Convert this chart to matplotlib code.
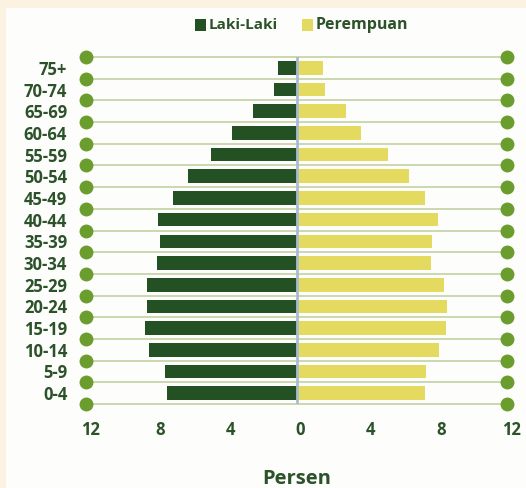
import matplotlib
matplotlib.use("Agg")
import matplotlib.pyplot as plt
from matplotlib.patches import Rectangle
from matplotlib.transforms import ScaledTranslation

categories = ["0-4", "5-9", "10-14", "15-19", "20-24", "25-29", "30-34", "35-39",
              "40-44", "45-49", "50-54", "55-59", "60-64", "65-69", "70-74", "75+"]
laki = [7.4, 7.5, 8.4, 8.65, 8.5, 8.55, 7.95, 7.8, 7.9, 7.05, 6.2, 4.85, 3.65, 2.5, 1.3, 1.05]
perempuan = [7.3, 7.4, 8.1, 8.5, 8.6, 8.4, 7.65, 7.7, 8.05, 7.3, 6.4, 5.2, 3.7, 2.8, 1.65, 1.5]
xticks = [-12, -8, -4, 0, 4, 8, 12]
xticklabels = ["12", "8", "4", "0", "4", "8", "12"]

W, H = 526, 488
fig = plt.figure(figsize=(W / 100, H / 100), dpi=100)
fig.patch.set_facecolor("#fbf2e2")
fig.patches.append(Rectangle((6 / W, 0), 1, 1 - 8 / H, transform=fig.transFigure,
                             facecolor="#fdfdfc", edgecolor="none", zorder=-10))

font = "Open Sans"
txt = "#2b5229"
dark = "#245124"
yellow = "#e3da5f"

ax = fig.add_axes([86 / W, 1 - 404 / H, 421 / W, 347 / H])
ax.set_facecolor("none")
ax.set_xlim(-12, 12)
ax.set_ylim(-0.5, len(categories) - 0.5)

ys = list(range(len(categories)))
ax.barh(ys, [-v for v in laki], height=0.63, color=dark, zorder=3)
ax.barh(ys, perempuan, height=0.63, color=yellow, zorder=3)

# grid lines with dots
for b in [i - 0.5 for i in range(len(categories) + 1)]:
    ax.plot([-12, 12], [b, b], color="#c7d5a9", lw=1.3, zorder=1, clip_on=False)
    ax.plot([-12, 12], [b, b], 'o', color="#6b9d2e", ms=9, zorder=4, clip_on=False)

ax.plot([0, 0], [-0.5, len(categories) - 0.5], color="#a9bccf", lw=2, zorder=4)

for s in ax.spines.values():
    s.set_visible(False)
ax.tick_params(length=0)
ax.set_yticks(ys)
ax.set_yticklabels(categories, fontfamily=font, fontweight="bold", fontsize=12, color=txt)
ax.tick_params(axis="y", pad=13.5)
ax.set_xticks(xticks)
ax.set_xticklabels(xticklabels, fontfamily=font, fontweight="bold", fontsize=12, color=txt)
ax.tick_params(axis="x", pad=12)
shift = ScaledTranslation(4 / 100, 0, fig.dpi_scale_trans)
for lab in ax.get_xticklabels():
    lab.set_transform(lab.get_transform() + shift)
ax.set_xlabel("Persen", fontfamily=font, fontweight="bold", fontsize=14.5, color=txt, labelpad=22)

# legend
for (x0, label, col, fs) in [(195, "Laki-Laki", dark, 11), (302, "Perempuan", yellow, 11.5)]:
    fig.patches.append(Rectangle((x0 / W, 1 - 31 / H), 11 / W, 12 / H, transform=fig.transFigure,
                                 facecolor=col, edgecolor="none", zorder=5))
    fig.text((x0 + 14) / W, 1 - 25 / H, label, fontfamily=font, fontweight="bold",
             fontsize=fs, color=txt, va="center", ha="left")

fig.savefig("out.png", dpi=100, facecolor=fig.get_facecolor())
